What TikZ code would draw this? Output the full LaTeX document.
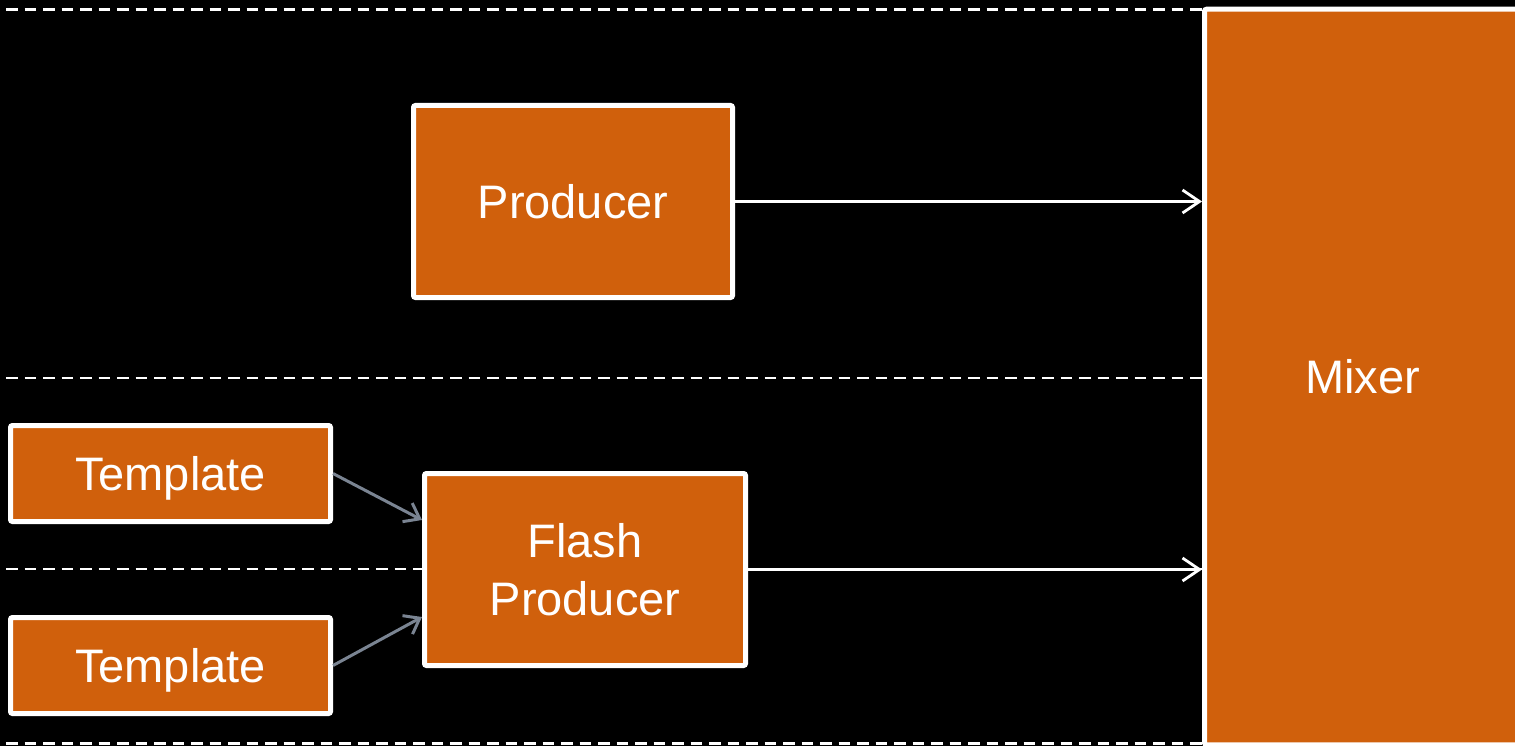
\documentclass[tikz,border=0pt]{standalone}
\usepackage{fontspec}
\setmainfont{Liberation Sans}
\usetikzlibrary{arrows.meta,calc}
\definecolor{boxorange}{RGB}{208,96,12}
\definecolor{linkgrey}{RGB}{122,132,146}
\begin{document}
\begin{tikzpicture}[x=1pt,y=-1pt,
  block/.style={draw=white, line width=5pt, fill=boxorange, rounded corners=2pt,
    text=white, font=\fontsize{47}{57.5}\selectfont, inner sep=0pt, align=center,
    text height=33.6pt, text depth=0pt},
  lane/.style={white, line width=2.3pt, dash pattern=on 11.5pt off 7pt, dash phase=12.5pt},
  flow/.style={white, line width=2.5pt, -{Straight Barb[length=17pt,width=23pt,line width=2.8pt]}},
  feed/.style={linkgrey, line width=3pt, -{Straight Barb[length=14pt,width=21pt,line width=3pt]}}]
\useasboundingbox (0,0) rectangle (1515,746);
\clip (0,0) rectangle (1515,746);
\fill[black] (0,0) rectangle (1515,746);
% swim lanes
\coordinate (l1a) at (0,9.5);   \coordinate (l1b) at (1203,9.5);
\coordinate (l2a) at (0,378);   \coordinate (l2b) at (1203,378);
\coordinate (l3a) at (0,569);   \coordinate (l3b) at (1203,569);
\coordinate (l4a) at (0,743.5); \coordinate (l4b) at (1203,743.5);
\draw[lane] (l1a) -- (l1b);
\draw[lane] (l2a) -- (l2b);
\draw[lane] (l3a) -- (l3b);
\draw[lane] (l4a) -- (l4b);
% blocks
\node[block, minimum width=319pt, minimum height=192pt] (prod) at (573,201.5) {Producer};
\node[block, minimum width=320pt, minimum height=96pt] (t1) at (170.5,473.5) {Template};
\node[block, minimum width=320pt, minimum height=96pt] (t2) at (170.5,665.5) {Template};
\node[block, minimum width=321pt, minimum height=192pt, text height=91.1pt] (fp) at (585,569.5) {Flash\\Producer};
\node[block, minimum width=316pt, minimum height=735.5pt] (mix) at (1362.5,377) {Mixer};
% connectors
\draw[flow] (prod.east) -- (prod.east -| mix.west);
\draw[flow] (fp.east) -- (fp.east -| mix.west);
\draw[feed] (t1.east) -- ($(fp.west)+(0,-49.5)$);
\draw[feed] (t2.east) -- ($(fp.west)+(0,47.5)$);
\end{tikzpicture}
\end{document}
